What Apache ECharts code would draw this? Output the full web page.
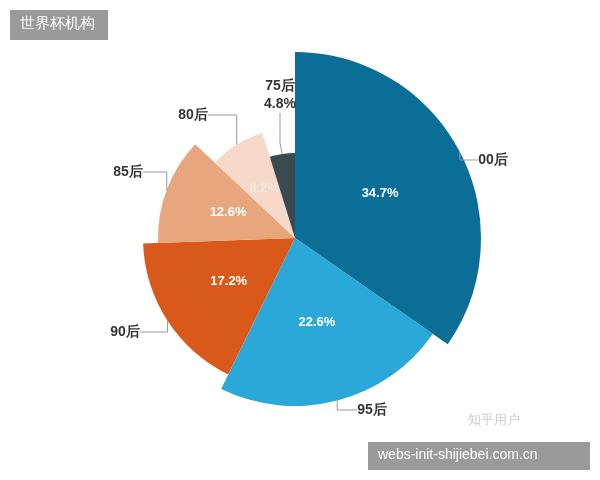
<!DOCTYPE html><html><head><meta charset="utf-8"><script src="https://cdn.jsdelivr.net/npm/echarts@6/dist/echarts.min.js"></script>
<style>html,body{margin:0;background:#fff}#c{width:600px;height:480px}</style></head><body><div id="c"></div><script>
const names=['00后','95后','90后','85后','80后','75后'];
const values=[34.7,22.6,17.2,12.6,8.2,4.8];
const radii=[186,168,152,137,110,85];
const colors=['#0b6e96','#2aa8d8','#d9591b','#e8a67d','#f6d9c8','#3a4a50'];
const labelPos=[[493,160],[372,410],[125,332],[128,172],[193,115],[280,95]];
const series=[];
names.forEach((n,i)=>{
  const mk=(outer)=>({type:'pie',center:[295,238],radius:[0,radii[i]],startAngle:90,silent:true,animation:false,
    data:names.map((m,j)=>({name:m,value:values[j],
      itemStyle:{color:j===i&&!outer?colors[j]:'transparent'},
      label:{show:j===i&&!(outer===false&&i===5)},
      labelLine:{show:j===i&&outer}})),
    label:outer?{position:'outside',color:'#333',fontSize:14,fontWeight:'bold',lineHeight:18,
      formatter:p=>p.dataIndex===5?p.name+'\n'+p.value+'%':p.name}
      :{position:'inside',color:i===4?'#f3e6de':'#fff',fontSize:13,fontWeight:'bold',formatter:'{c}%'},
    labelLayout:outer?()=>({x:labelPos[i][0],y:labelPos[i][1],align:'center',verticalAlign:'middle'}):undefined,
    labelLine:{length:20,length2:30,lineStyle:{color:'#999'}},z:outer?3:2});
  series.push(mk(false));series.push(mk(true));
});
const chart=echarts.init(document.getElementById('c'));
chart.setOption({backgroundColor:'#fff',series,
 graphic:[
  {type:'rect',left:10,top:10,shape:{width:98,height:30},style:{fill:'#9a9a9a'}},
  {type:'text',left:20,top:16,style:{text:'世界杯机构',fill:'#fff',fontSize:15}},
  {type:'text',left:468,top:414,style:{text:'知乎用户',fill:'#ccc',fontSize:13}},
  {type:'rect',left:368,top:442,shape:{width:222,height:28},style:{fill:'#9a9a9a'}},
  {type:'text',left:378,top:448,style:{text:'webs-init-shijiebei.com.cn',fill:'#fff',fontSize:14}}
 ]});
</script></body></html>
